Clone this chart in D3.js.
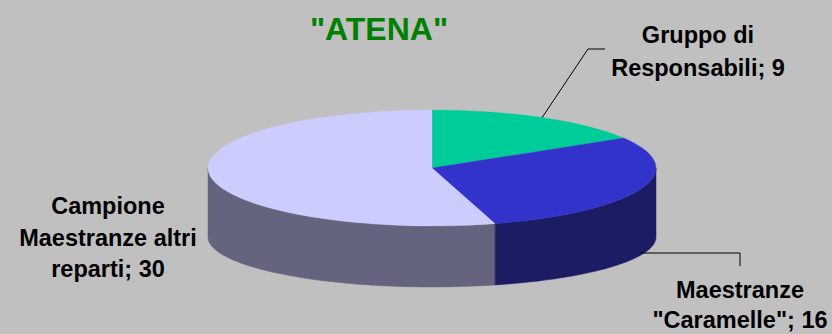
<!DOCTYPE html>
<html>
<head>
<meta charset="utf-8">
<script src="https://cdn.jsdelivr.net/npm/d3@7"></script>
<style>
  html, body { margin: 0; padding: 0; background: #c0c0c0; }
  svg { display: block; }
  text { font-family: "Liberation Sans", Arial, sans-serif; font-weight: bold; }
</style>
</head>
<body>
<svg id="chart" width="832" height="334"></svg>
<script>
// data
let categories = ["Gruppo di Responsabili", "Maestranze \"Caramelle\"", "Campione Maestranze altri reparti"];
let values = [9, 16, 30];
let labelLines = [
  ["Gruppo di", "Responsabili; 9"],
  ["Maestranze", "\"Caramelle\"; 16"],
  ["Campione", "Maestranze altri", "reparti; 30"]
];
let titleLines = ["\"ATENA\""];

let topColors = ["#00cc99", "#3333cc", "#ccccff"];
let sideColors = ["#007a5c", "#1c1c64", "#64647f"];

let width = 832, height = 334;
let cx = 432, cy = 168, rx = 224, ry = 58;
let cyBottom = 237, ryBottom = 50;

let svg = d3.select("#chart");

svg.append("rect")
  .attr("width", width)
  .attr("height", height)
  .attr("fill", "#c0c0c0");

let pie = d3.pie().sort(null).startAngle(0).endAngle(2 * Math.PI);
let slices = pie(values);

// point on an ellipse, angle measured clockwise from 12 o'clock
function ept(a, yc, r) {
  return [cx + rx * Math.sin(a), yc - r * Math.cos(a)];
}

// side walls (only the front half is visible)
let line = d3.line();
slices.forEach((d, i) => {
  let a0 = Math.max(d.startAngle, Math.PI / 2);
  let a1 = Math.min(d.endAngle, 3 * Math.PI / 2);
  if (a1 <= a0) return;
  let steps = d3.range(0, 61).map(k => a0 + (a1 - a0) * k / 60);
  let pts = steps.map(a => ept(a, cy, ry))
    .concat(steps.slice().reverse().map(a => ept(a, cyBottom, ryBottom)));
  svg.append("path")
    .attr("d", line(pts) + "Z")
    .attr("fill", sideColors[i])
    .attr("stroke", sideColors[i])
    .attr("stroke-width", 0.5);
});

// seam between side walls
svg.append("line")
  .attr("x1", ept(slices[1].endAngle, cy, ry)[0])
  .attr("y1", ept(slices[1].endAngle, cy, ry)[1])
  .attr("x2", ept(slices[1].endAngle, cyBottom, ryBottom)[0])
  .attr("y2", ept(slices[1].endAngle, cyBottom, ryBottom)[1])
  .attr("stroke", "#2a2a50")
  .attr("stroke-width", 0.8);

// top surface
let arc = d3.arc().innerRadius(0).outerRadius(rx);
svg.append("g")
  .attr("transform", `translate(${cx},${cy}) scale(1,${ry / rx})`)
  .selectAll("path")
  .data(slices)
  .enter()
  .append("path")
  .attr("d", arc)
  .attr("fill", (d, i) => topColors[i])
  .attr("stroke", (d, i) => topColors[i])
  .attr("stroke-width", 0.5);

// leader lines
let mid0 = (slices[0].startAngle + slices[0].endAngle) / 2;
let p0 = ept(mid0, cy, ry);
svg.append("path")
  .attr("d", d3.line()([p0, [588, 49], [605, 49]]))
  .attr("fill", "none")
  .attr("stroke", "#000")
  .attr("stroke-width", 1);

let mid1 = (slices[1].startAngle + slices[1].endAngle) / 2;
let p1 = ept(mid1, cyBottom, ryBottom);
svg.append("path")
  .attr("d", d3.line()([[p1[0], 253], [740, 253], [740, 266]]))
  .attr("fill", "none")
  .attr("stroke", "#000")
  .attr("stroke-width", 1);

// labels
let labelPos = [
  { x: 698, y: 43, dy: 32.5 },
  { x: 740, y: 298, dy: 29.5 },
  { x: 108, y: 214, dy: 31.5 }
];

labelLines.forEach((lines, i) => {
  let t = svg.append("text")
    .attr("text-anchor", "middle")
    .attr("font-size", 23.5)
    .attr("fill", "#000");
  lines.forEach((s, k) => {
    t.append("tspan")
      .attr("x", labelPos[i].x)
      .attr("y", labelPos[i].y + k * labelPos[i].dy)
      .text(s);
  });
});

// title (upper line falls outside the picture)
svg.append("text")
  .attr("x", 379)
  .attr("y", 40)
  .attr("text-anchor", "middle")
  .attr("font-size", 32)
  .attr("fill", "#008000")
  .text(titleLines[0]);
</script>
</body>
</html>
